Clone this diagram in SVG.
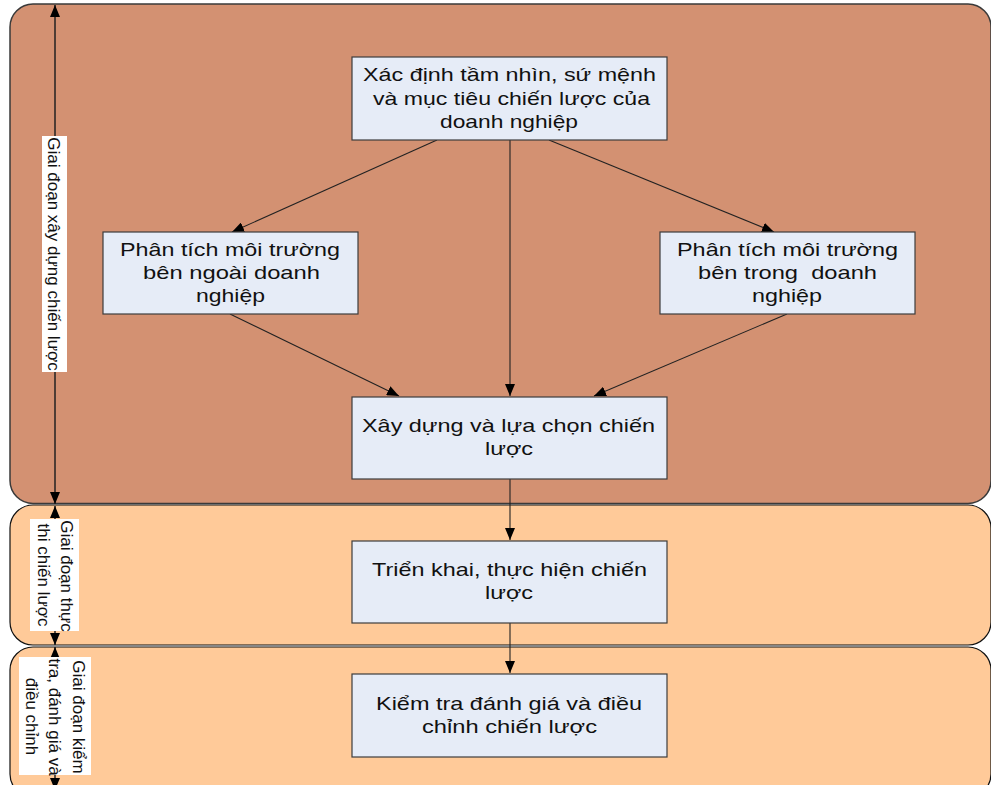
<svg xmlns="http://www.w3.org/2000/svg" width="991" height="785" viewBox="0 0 991 785">
<style>
.p1{fill:#D39172;stroke:#3a3a3a;stroke-width:1.5}
.p2{fill:#FFCA99;stroke:#111;stroke-width:1.2}
.box{fill:#E6ECF7;stroke:#3c3c3c;stroke-width:1.2}
.t{font-family:"Liberation Sans",Arial,sans-serif;font-size:19px;fill:#111;text-anchor:middle}
.lt{font-family:"Liberation Sans",Arial,sans-serif;font-size:17px;fill:#111;text-anchor:middle}
.lab{fill:#fff}
.c{stroke:#222;stroke-width:1.1;fill:none;marker-end:url(#ah)}
.v{stroke:#222;stroke-width:1.5;fill:none;marker-start:url(#ah2);marker-end:url(#ah2)}
</style>
<defs>
<marker id="ah" viewBox="0 0 12 10" refX="12" refY="5" markerWidth="12" markerHeight="10" markerUnits="userSpaceOnUse" orient="auto"><path d="M0,0 L12,5 L0,10 z" fill="#000"/></marker>
<marker id="ah2" viewBox="0 0 12 10" refX="12" refY="5" markerWidth="12" markerHeight="10" markerUnits="userSpaceOnUse" orient="auto-start-reverse"><path d="M0,0 L12,5 L0,10 z" fill="#000"/></marker>
</defs>
<rect width="991" height="785" fill="#fff"/>
<g id="phase1"><rect class="p1" x="10" y="4" width="981" height="499.5" rx="23" ry="23"/></g>
<g id="phase2"><rect class="p2" x="10" y="505" width="981" height="140" rx="23" ry="23"/></g>
<g id="phase3"><rect class="p2" x="10" y="647" width="981" height="150" rx="23" ry="23"/></g>

<g id="connectors">
<line class="c" x1="437" y1="140" x2="232" y2="232"/>
<line class="c" x1="510" y1="140" x2="510" y2="396"/>
<line class="c" x1="549" y1="140" x2="774" y2="232"/>
<line class="c" x1="230" y1="314" x2="399" y2="396"/>
<line class="c" x1="787" y1="314" x2="594" y2="396"/>
<line class="c" x1="510" y1="479" x2="510" y2="540"/>
<line class="c" x1="510" y1="623" x2="510" y2="673"/>
<line class="v" x1="55" y1="5" x2="55" y2="504"/>
<line class="v" x1="55" y1="506" x2="55" y2="645"/>
<line class="v" x1="55" y1="647" x2="55" y2="790"/>
</g>

<g id="n1"><rect class="box" x="352" y="57" width="315" height="83"/>
<text class="t" x="509.5" y="81" textLength="293" lengthAdjust="spacingAndGlyphs">Xác định tầm nhìn, sứ mệnh</text>
<text class="t" x="511.5" y="104.5" textLength="277" lengthAdjust="spacingAndGlyphs">và mục tiêu chiến lược của</text>
<text class="t" x="509" y="128" textLength="138" lengthAdjust="spacingAndGlyphs">doanh nghiệp</text></g>

<g id="n2"><rect class="box" x="103" y="232" width="255" height="82"/>
<text class="t" x="230" y="256" textLength="220" lengthAdjust="spacingAndGlyphs">Phân tích môi trường</text>
<text class="t" x="231.5" y="279.3" textLength="177" lengthAdjust="spacingAndGlyphs">bên ngoài doanh</text>
<text class="t" x="230.5" y="301.7" textLength="69" lengthAdjust="spacingAndGlyphs">nghiệp</text></g>

<g id="n3"><rect class="box" x="660" y="232" width="255" height="82"/>
<text class="t" x="787.5" y="256" textLength="221" lengthAdjust="spacingAndGlyphs">Phân tích môi trường</text>
<text class="t" x="787.5" y="279.3" textLength="179" lengthAdjust="spacingAndGlyphs" xml:space="preserve">bên trong  doanh</text>
<text class="t" x="787" y="301.7" textLength="70" lengthAdjust="spacingAndGlyphs">nghiệp</text></g>

<g id="n4"><rect class="box" x="352" y="397" width="315" height="82"/>
<text class="t" x="508.5" y="432" textLength="293" lengthAdjust="spacingAndGlyphs">Xây dựng và lựa chọn chiến</text>
<text class="t" x="509" y="455" textLength="48" lengthAdjust="spacingAndGlyphs">lược</text></g>

<g id="n5"><rect class="box" x="352" y="541" width="315" height="82"/>
<text class="t" x="509.5" y="576" textLength="275" lengthAdjust="spacingAndGlyphs">Triển khai, thực hiện chiến</text>
<text class="t" x="509" y="599.3" textLength="48" lengthAdjust="spacingAndGlyphs">lược</text></g>

<g id="n6"><rect class="box" x="352" y="674" width="315" height="83"/>
<text class="t" x="509" y="710" textLength="266" lengthAdjust="spacingAndGlyphs">Kiểm tra đánh giá và điều</text>
<text class="t" x="509.5" y="733.3" textLength="175" lengthAdjust="spacingAndGlyphs">chỉnh chiến lược</text></g>

<g id="label1"><rect class="lab" x="42" y="136" width="25" height="236"/>
<text class="lt" transform="translate(48,254) rotate(90)">Giai đoạn xây dựng chiến lược</text></g>

<g id="label2"><rect class="lab" x="30" y="519" width="49" height="112"/>
<text class="lt" transform="translate(61,576) rotate(90)">Giai đoạn thực</text>
<text class="lt" transform="translate(37.5,575) rotate(90)">thi chiến lược</text></g>

<g id="label3"><rect class="lab" x="19" y="657" width="72" height="118"/>
<text class="lt" transform="translate(72.5,717) rotate(90)">Giai đoạn kiểm</text>
<text class="lt" transform="translate(49,717) rotate(90)">tra, đánh giá và</text>
<text class="lt" transform="translate(25.5,716.5) rotate(90)">điều chỉnh</text></g>
</svg>
